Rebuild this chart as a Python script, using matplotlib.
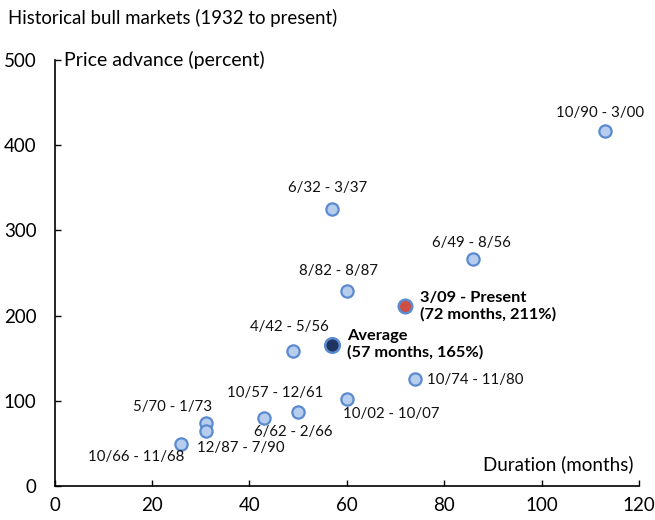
import matplotlib.pyplot as plt

# bull markets: duration (months) vs price advance (percent)
labels = ["10/90 - 3/00", "6/32 - 3/37", "8/82 - 8/87", "6/49 - 8/56", "4/42 - 5/56",
          "10/74 - 11/80", "10/02 - 10/07", "10/57 - 12/61", "6/62 - 2/66",
          "5/70 - 1/73", "12/87 - 7/90", "10/66 - 11/68"]
months = [113, 57, 60, 86, 49, 74, 60, 50, 43, 31, 31, 26]
advance = [417, 325, 229, 267, 158, 126, 102, 87, 80, 74, 65, 49]

present_label = "3/09 - Present\n(72 months, 211%)"
present = (72, 211)
average_label = "Average\n(57 months, 165%)"
average = (57, 165)

# label offsets in pixels (dx, dy, ha)
offsets = [(-5, 18, "center"), (-5, 21, "center"), (-8, 20, "center"), (-2, 16, "center"),
           (-4, 24, "center"), (12, -1, "left"), (-4, -15, "left"), (-23, 19, "center"),
           (29, -14, "center"), (-33, 16, "center"), (-9, -17, "left"), (-45, -13, "center")]

plt.rcParams['font.family'] = ['Lato', 'DejaVu Sans']

fig = plt.figure(figsize=(6.55, 5.2), dpi=100)
ax = fig.add_axes([0.0835, 0.0654, 0.892, 0.8192])

edge = "#5a8ad0"
ax.scatter(months, advance, s=78, facecolor="#b7cdee", edgecolor=edge, linewidth=1.6, zorder=3)
ax.scatter([present[0]], [present[1]], s=95, facecolor="#cf4f45", edgecolor=edge, linewidth=1.8, zorder=3)
ax.scatter([average[0]], [average[1]], s=110, facecolor="#1f3560", edgecolor=edge, linewidth=1.8, zorder=3)

for lab, x, y, (dx, dy, ha) in zip(labels, months, advance, offsets):
    ax.annotate(lab, (x, y), xytext=(dx, dy), textcoords="offset pixels",
                ha=ha, va="center", fontsize=10.8, color="#111111")

ax.annotate(present_label, present, xytext=(15, 0), textcoords="offset pixels",
            ha="left", va="center", fontsize=11.8, fontweight="bold", linespacing=1.18)
ax.annotate(average_label, average, xytext=(15, 1), textcoords="offset pixels",
            ha="left", va="center", fontsize=11.8, fontweight="bold", linespacing=1.18)

ax.set_xlim(0, 120)
ax.set_ylim(0, 500)
ax.set_xticks(range(0, 121, 20))
ax.set_yticks(range(0, 501, 100))
ax.tick_params(direction="in", length=4, width=1, labelsize=13.5, pad=8)
ax.tick_params(axis="y", pad=13)
for s in ["top", "right"]:
    ax.spines[s].set_visible(False)
for s in ["left", "bottom"]:
    ax.spines[s].set_linewidth(1.2)

ax.text(0.016, 1.0, "Price advance (percent)", transform=ax.transAxes,
        ha="left", va="center", fontsize=14)
ax.text(0.99, 0.052, "Duration (months)", transform=ax.transAxes,
        ha="right", va="center", fontsize=13.5)

fig.text(0.012, 0.965, "Historical bull markets (1932 to present)", ha="left", va="center", fontsize=13.4)

fig.savefig("out.png", dpi=100)
